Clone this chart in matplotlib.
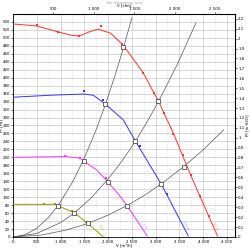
import numpy as np
import matplotlib.pyplot as plt

# fan curves, V [m3/h] and pressure [Pa]
red_v = [0, 500, 950, 1250, 1400, 1600, 1790, 2050, 2300, 2500, 2740, 3060, 3380, 3735, 4115, 4300]
red_p = [535, 530, 515, 506, 505, 515, 522, 512, 484, 452, 412, 341, 259, 156, 53, 3]
red_mv = [506, 950, 1393, 1857, 2300, 2743, 2975, 3186, 3376, 3566, 3735, 3925, 4115]
red_mp = [532, 515, 505, 530, 484, 412, 361, 311, 259, 206, 156, 103, 53]

blue_v = [0, 780, 1480, 1690, 1942, 2321, 2574, 3123, 3686]
blue_p = [351, 356, 359, 356, 334, 294, 241, 132, 3]
blue_mv = [1498, 1900, 2680, 3249]
blue_mp = [366, 344, 228, 108]

mag_v = [0, 1100, 1414, 1484, 1766, 1990, 2200, 2399, 2821]
mag_p = [200, 202, 198, 191, 168, 139, 110, 79, 3]
mag_mv = [1097, 1414, 1962]
mag_mp = [203, 198, 147]

olive_v = [0, 886, 956, 1287, 1576, 1892]
olive_p = [82, 82, 78, 61, 34, 1]
olive_mv = [661, 886, 1238, 1540]
olive_mp = [82, 82, 65, 38]

# system curves
sys1_v = [0, 250, 500, 750, 956, 1250, 1484, 1750, 1942, 2150, 2321, 2500]
sys1_p = [0, 5.5, 22, 49.5, 80, 137.5, 194, 269.5, 332, 407, 474, 550]
sys2_v = [0, 500, 1000, 1287, 1650, 1990, 2300, 2574, 2800, 3060, 3450, 3850]
sys2_p = [0, 9, 36, 60, 99, 144, 192, 240, 285, 340, 432, 538]
sys3_v = [0, 600, 1100, 1576, 2000, 2399, 2800, 3123, 3595, 4000, 4430]
sys3_p = [0, 5, 17, 34, 55, 79, 107, 134, 177, 219, 269]

# operating points
op_v = [956, 1484, 1942, 2321, 1287, 1990, 2574, 3060, 1576, 2399, 3123, 3595]
op_p = [78, 191, 334, 477, 61, 139, 241, 341, 34, 79, 133, 177]

curve_names = ["10 V", "7.5 V", "5 V", "3 V"]
curve_colors = ["#ff3333", "#3333ff", "#ff33ff", "#999900"]

plt.rcParams['font.size'] = 2.8
fig = plt.figure(figsize=(2.5, 2.5), dpi=100)
ax = fig.add_axes([0.052, 0.052, 0.888, 0.892])

for sv, sp in [(sys1_v, sys1_p), (sys2_v, sys2_p), (sys3_v, sys3_p)]:
    ax.plot(sv, sp, color="#555555", lw=0.5, zorder=2)

curves = [(red_v, red_p, red_mv, red_mp), (blue_v, blue_p, blue_mv, blue_mp),
          (mag_v, mag_p, mag_mv, mag_mp), (olive_v, olive_p, olive_mv, olive_mp)]
for (v, p, mv, mp), c, name in zip(curves, curve_colors, curve_names):
    ax.plot(v, p, color=c, lw=0.7, zorder=3)
    ax.plot(mv, mp, 's', color=c, ms=1.5, mew=0, zorder=4)
    ax.text(v[-1] - 60, p[-1] + 25, name, color=c, fontsize=2.5, rotation=-60,
            ha='center', va='center', alpha=0.6)

ax.plot(op_v, op_p, 's', mfc='white', mec='#222222', ms=2.2, mew=0.45, zorder=5)

ax.set_xlim(0, 4670)
ax.set_ylim(0, 560)
ax.set_xticks(np.arange(0, 4501, 500))
ax.set_xticklabels(["0", "500", "1 000", "1 500", "2 000", "2 500", "3 000", "3 500", "4 000", "4 500"])
ax.set_yticks(np.arange(0, 541, 20))
ax.set_xticks(np.arange(250, 4670, 500), minor=True)
ax.grid(True, which='major', color='#bbbbbb', lw=0.4, ls='-')
ax.grid(True, which='minor', axis='x', color='#cccccc', lw=0.4, ls=':')
ax.tick_params(length=1.2, width=0.4, pad=1)
ax.tick_params(which='minor', length=0)
for s in ax.spines.values():
    s.set_linewidth(0.6)
ax.set_xlabel("V [m³/h]")
ax.xaxis.set_label_coords(0.5, -0.032)
ax.set_ylabel("Pf [Pa]")
ax.yaxis.set_label_coords(-0.042, 0.5)

top = ax.secondary_xaxis('top', functions=(lambda x: x / 1.699, lambda x: x * 1.699))
top.set_xticks([500, 1000, 1500, 2000, 2500])
top.set_xticklabels(["500", "1 000", "1 500", "2 000", "2 500"])
top.tick_params(length=1.2, width=0.4, pad=1)
top.set_xlabel("V [cfm]", labelpad=0.5)

right = ax.secondary_yaxis('right', functions=(lambda y: y / 249.09, lambda y: y * 249.09))
right.set_yticks(np.round(np.arange(0, 2.21, 0.1), 1))
right.set_yticklabels(["0"] + ["%g" % t for t in np.round(np.arange(0.1, 2.21, 0.1), 1)])
right.tick_params(length=1.2, width=0.4, pad=1)
right.set_ylabel("Pf [in H2O]", labelpad=1)

fig.text(0.5, 0.998, "Fan characteristic curve", ha='center', va='top', fontsize=2.2, color='#999999')

fig.savefig("out.png", dpi=100)
